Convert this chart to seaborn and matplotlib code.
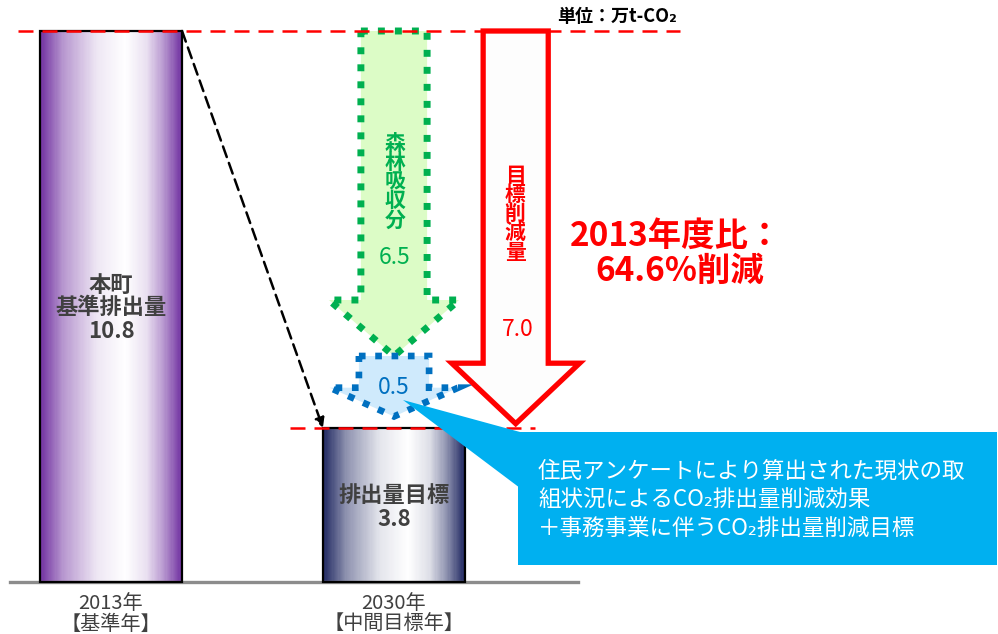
import numpy as np
import pandas as pd
import matplotlib
matplotlib.use("Agg")
import matplotlib.pyplot as plt
from matplotlib.colors import ListedColormap, to_rgb
from matplotlib.patches import Polygon, Rectangle
import seaborn as sns

# ---- data (万t-CO2) ----
years = ["2013年\n【基準年】", "2030年\n【中間目標年】"]
emissions = [10.8, 3.8]
bar_titles = ["本町\n基準排出量", "排出量目標"]
forest_absorption = 6.5
survey_reduction = 0.5
target_reduction = 7.0
reduction_rate = 64.6

sns.set_theme(style="white")
plt.rcParams["font.family"] = ["Noto Sans CJK JP", "DejaVu Sans"]

W, H = 998, 634
fig = plt.figure(figsize=(W / 100, H / 100), dpi=100)
ax = fig.add_axes([0, 0, 1, 1])

# piecewise-linear value axis (schematic spacing of the diagram)
base = emissions[0] - forest_absorption
KV = np.array([0.0, emissions[1], base, emissions[0]])
KP = np.array([0.0, 154.0, 226.0, 551.0])


def _pw(x, xs, ys):
    x = np.asarray(x, dtype=float)
    y = np.interp(x, xs, ys)
    s_lo = (ys[1] - ys[0]) / (xs[1] - xs[0])
    s_hi = (ys[-1] - ys[-2]) / (xs[-1] - xs[-2])
    y = np.where(x < xs[0], ys[0] + (x - xs[0]) * s_lo, y)
    y = np.where(x > xs[-1], ys[-1] + (x - xs[-1]) * s_hi, y)
    return y


def fwd(v):
    return _pw(v, KV, KP)


def inv(p):
    return _pw(p, KP, KV)


ax.set_yscale("function", functions=(fwd, inv))
BASE_PX = 582
PX_PER_CAT = 283.0
X0_PX = 111.0


def xd(px):
    return (px - X0_PX) / PX_PER_CAT


def fx(px):
    return px / W


def fy(py):
    return 1 - py / H


df = pd.DataFrame({"year": years, "value": emissions})
sns.barplot(data=df, x="year", y="value", ax=ax, width=0.502,
            color="white", edgecolor="black", linewidth=1.6, zorder=3)
ax.set_xlim(xd(0), xd(W))
ax.set_ylim(float(inv(BASE_PX - H)), float(inv(BASE_PX)))

# horizontal gradient fill inside each bar
edge_cols = ["#7030A0", "#1E2660"]
stops = [0, 0.165, 0.4, 0.6, 0.75, 0.87, 1.0]
mix = [0, 0.5, 0.88, 1.0, 0.85, 0.5, 0]
N = 120
for p, ec in zip(ax.patches, edge_cols):
    x0, w, h = p.get_x(), p.get_width(), p.get_height()
    t = (np.arange(N) + 0.5) / N
    m = np.interp(t, stops, mix)[:, None]
    cols = np.array(to_rgb(ec)) * (1 - m) + np.ones(3) * m
    ax.pcolormesh(np.linspace(x0, x0 + w, N + 1), [0, h], np.arange(N)[None, :],
                  cmap=ListedColormap(cols), shading="flat", zorder=2)
    p.set_facecolor("none")

bars = ax.patches[:2]
b0, b1 = bars

# baseline / ticks
for s in ["top", "left", "right"]:
    ax.spines[s].set_visible(False)
ax.spines["bottom"].set_position(("data", 0))
ax.spines["bottom"].set_bounds(xd(10), xd(578))
ax.spines["bottom"].set_color("#8c8c8c")
ax.spines["bottom"].set_linewidth(2.4)
ax.set_yticks([])
ax.set_xlabel("")
ax.set_ylabel("")
ax.tick_params(axis="x", length=0, pad=8, labelcolor="#404040")
for lab in ax.get_xticklabels():
    lab.set_linespacing(0.98)
    lab.set_fontsize(14.5)

# reference levels
ax.hlines(emissions[0], xd(18), xd(680), colors="#FF0000", lw=1.8,
          linestyles=(0, (6, 3.6)), zorder=6)
ax.hlines(emissions[1], xd(290), xd(535), colors="#FF0000", lw=1.8,
          linestyles=(0, (6, 3.6)), zorder=6)

# dashed arrow between bar tops
ax.annotate("", xy=(b1.get_x(), emissions[1]),
            xytext=(b0.get_x() + b0.get_width(), emissions[0]),
            arrowprops=dict(arrowstyle="-|>", color="black", lw=1.8,
                            linestyle=(0, (4.5, 2.5)), shrinkA=0, shrinkB=0,
                            mutation_scale=14), zorder=7)


def down_arrow(xc, top, tip, shaft_hw, head_hw, head_len):
    hb = tip + head_len
    return [(xc - shaft_hw, top), (xc + shaft_hw, top), (xc + shaft_hw, hb),
            (xc + head_hw, hb), (xc, tip), (xc - head_hw, hb), (xc - shaft_hw, hb)]


dotted = (0, (1, 1.45))

# forest absorption arrow
g = Polygon(down_arrow(1.0, emissions[0], base, 0.117, 0.23, 1.12), closed=True,
            facecolor="#DCFCC6", edgecolor="#00B050", lw=5.0, linestyle=dotted,
            joinstyle="miter", zorder=4)
g.set_capstyle("butt")
ax.add_patch(g)

# survey-based reduction arrow
b = Polygon(down_arrow(1.0, base, emissions[1] + 0.08, 0.124, 0.227, 0.2), closed=True,
            facecolor="#CFEAFC", edgecolor="#0070C0", lw=4.8, linestyle=dotted,
            joinstyle="miter", zorder=4)
b.set_capstyle("butt")
ax.add_patch(b)

# total target reduction arrow
r = Polygon(down_arrow(1.43, emissions[0], emissions[0] - target_reduction + 0.03,
                       0.115, 0.226, 0.42), closed=True,
            facecolor="#FDFDFD", edgecolor="#FF0000", lw=3.8, joinstyle="miter", zorder=4)
ax.add_patch(r)

# callout box
ax.add_patch(Polygon([(fx(403), fy(400)), (fx(520), fy(432)), (fx(520), fy(488))],
                     closed=True, transform=fig.transFigure, facecolor="#00B0F0",
                     edgecolor="none", zorder=8))
ax.add_patch(Rectangle((fx(518), fy(565)), fx(997) - fx(518), fy(432) - fy(565),
                       transform=fig.transFigure, facecolor="#00B0F0",
                       edgecolor="none", zorder=8))
box_lines = ["住民アンケートにより算出された現状の取",
             "組状況によるCO₂排出量削減効果",
             "＋事務事業に伴うCO₂排出量削減目標"]
for line, py in zip(box_lines, [471, 499, 528]):
    fig.text(fx(538), fy(py), line, color="white", fontsize=16.2,
             ha="left", va="center", zorder=9)

# labels inside bars
dark = "#404040"
title0 = bar_titles[0].split("\n")
for txt, py in zip(title0 + [f"{emissions[0]:.1f}"], [285, 308, 331]):
    fig.text(fx(111), fy(py), txt, color=dark, fontsize=16, fontweight="bold",
             ha="center", va="center", zorder=9)
for txt, py in zip([bar_titles[1], f"{emissions[1]:.1f}"], [495, 519]):
    fig.text(fx(394), fy(py), txt, color=dark, fontsize=16, fontweight="bold",
             ha="center", va="center", zorder=9)

# vertical captions in arrows
for i, ch in enumerate("森林吸収分"):
    fig.text(fx(395), fy(143 + i * 19.3), ch, color="#00B050", fontsize=15,
             fontweight="bold", ha="center", va="center", zorder=9)
fig.text(fx(395), fy(258), f"{forest_absorption:.1f}", color="#00B050",
         fontsize=16.5, ha="center", va="center", zorder=9)
for i, ch in enumerate("目標削減量"):
    fig.text(fx(515), fy(175 + i * 19.3), ch, color="#FF0000", fontsize=15,
             fontweight="bold", ha="center", va="center", zorder=9)
fig.text(fx(518), fy(330), f"{target_reduction:.1f}", color="#FF0000",
         fontsize=16.5, ha="center", va="center", zorder=9)
fig.text(fx(394), fy(388), f"{survey_reduction:.1f}", color="#0070C0",
         fontsize=16.5, ha="center", va="center", zorder=9)

# headline
fig.text(fx(676), fy(236), "2013年度比：", color="#FF0000", fontsize=24,
         fontweight="bold", ha="center", va="center", zorder=9)
fig.text(fx(680), fy(271), f"{reduction_rate:.1f}%削減", color="#FF0000",
         fontsize=24, fontweight="bold", ha="center", va="center", zorder=9)

# unit
fig.text(fx(617), fy(17), "単位：万t-CO₂", color="black", fontsize=13,
         fontweight="bold", ha="center", va="center", zorder=9)

fig.savefig("out.png", dpi=100)
